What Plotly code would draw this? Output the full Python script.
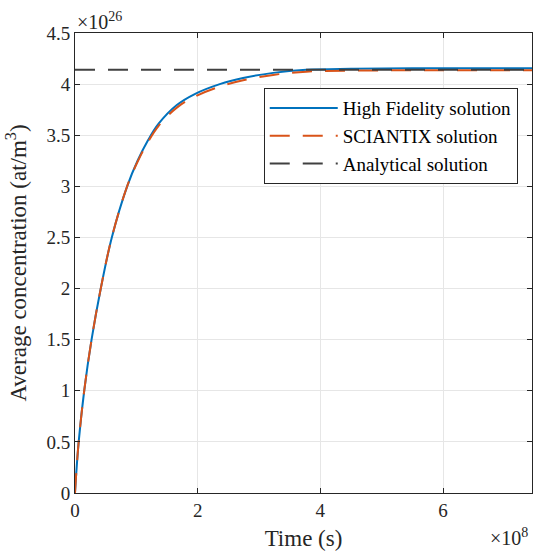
import plotly.graph_objects as go

# Time (x 1e8 s)
time_hf = [0, 0.02, 0.06, 0.15, 0.27, 0.42, 0.6, 0.85, 1.02, 1.19, 1.36, 1.66, 1.96, 2.36, 2.74, 3.23, 3.77, 4.5, 5.5, 7.5]
conc_hf = [0, 0.19, 0.5, 1.0, 1.5, 2.0, 2.5, 3.0, 3.25, 3.45, 3.61, 3.795, 3.905, 4.0, 4.06, 4.11, 4.14, 4.15, 4.155, 4.155]

time_sc = [0, 0.02, 0.06, 0.15, 0.27, 0.42, 0.6, 0.85, 1.02, 1.19, 1.36, 1.66, 1.96, 2.36, 2.74, 3.23, 3.77, 4.5, 5.5, 7.5]
conc_sc = [0, 0.19, 0.5, 1.0, 1.5, 2.0, 2.5, 3.0, 3.24, 3.435, 3.59, 3.77, 3.88, 3.975, 4.037, 4.09, 4.122, 4.132, 4.135, 4.135]

time_an = [0, 7.5]
conc_an = [4.14, 4.14]

x_ticks = [0, 2, 4, 6]
y_ticks = [0, 0.5, 1, 1.5, 2, 2.5, 3, 3.5, 4, 4.5]
y_tick_labels = ["0", "0.5", "1", "1.5", "2", "2.5", "3", "3.5", "4", "4.5"]

FONT = "Liberation Serif"
AX = "#262626"

fig = go.Figure()
fig.add_trace(go.Scatter(x=time_hf, y=conc_hf, mode="lines", name="High Fidelity solution",
                         line=dict(color="#0072BD", width=2, shape="spline", smoothing=1.0)))
fig.add_trace(go.Scatter(x=time_sc, y=conc_sc, mode="lines", name="SCIANTIX solution",
                         line=dict(color="#D95319", width=2, dash="20px,13px", shape="spline", smoothing=1.0)))
fig.add_trace(go.Scatter(x=time_an, y=conc_an, mode="lines", name="Analytical solution",
                         line=dict(color="#404040", width=2, dash="20px,13px")))

fig.update_layout(
    width=533, height=555,
    margin=dict(l=75, r=1, t=33, b=62, autoexpand=False),
    plot_bgcolor="white", paper_bgcolor="white",
    font=dict(family=FONT, size=16, color=AX),
    legend=dict(x=0.413, y=0.880, xanchor="left", yanchor="top",
                bgcolor="white", bordercolor="#262626", borderwidth=1,
                font=dict(family=FONT, size=19, color="#000000"),
                tracegroupgap=0, itemwidth=68),
    xaxis=dict(range=[0, 7.45], tickvals=x_ticks, ticktext=[str(v) for v in x_ticks],
               ticks="inside", ticklen=5, tickcolor=AX, showline=True, linecolor=AX, linewidth=1,
               mirror="allticks", showgrid=True, gridcolor="#e6e6e6", zeroline=False, automargin=False,
               title=dict(text="Time (s)", font=dict(size=23, family=FONT), standoff=10),
               tickfont=dict(size=19)),
    yaxis=dict(range=[0, 4.5], tickvals=y_ticks, ticktext=y_tick_labels,
               ticks="inside", ticklen=5, tickcolor=AX, showline=True, linecolor=AX, linewidth=1,
               mirror="allticks", showgrid=True, gridcolor="#e6e6e6", zeroline=False, automargin=False,
               title=dict(text="Average concentration (at/m<sup>3</sup>)", font=dict(size=23, family=FONT), standoff=13),
               tickfont=dict(size=19)),
    annotations=[
        dict(text="×10<sup>26</sup>", xref="paper", yref="paper", x=0.0, y=1.0,
             xanchor="left", yanchor="bottom", showarrow=False, yshift=-2,
             font=dict(family=FONT, size=20, color=AX)),
        dict(text="×10<sup>8</sup>", xref="paper", yref="paper", x=0.903, y=0.0,
             xanchor="left", yanchor="top", showarrow=False, yshift=-30,
             font=dict(family=FONT, size=20, color=AX)),
    ],
)

fig.write_html("out.html", config={"displayModeBar": False},
               post_script="document.body.style.margin='0';document.body.style.overflow='hidden';")
